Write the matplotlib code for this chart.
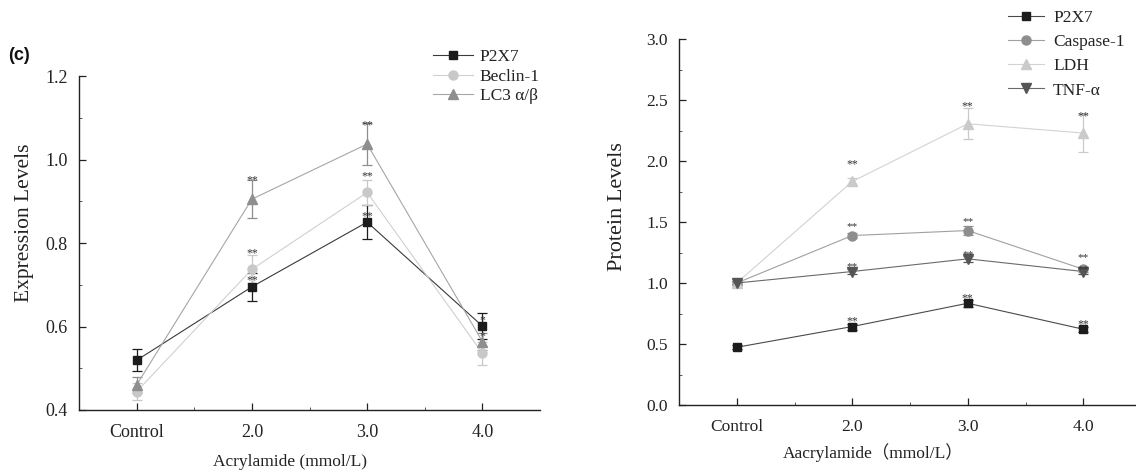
import matplotlib
matplotlib.use("Agg")
import matplotlib.pyplot as plt
import numpy as np
from matplotlib.ticker import MultipleLocator, FixedLocator
from matplotlib.lines import Line2D

plt.rcParams['font.family'] = ['Liberation Serif', 'Noto Sans CJK SC']
plt.rcParams['mathtext.fontset'] = 'stix'

# ---------------- data ----------------
categories = ["Control", "2.0", "3.0", "4.0"]

# Panel (c) – expression levels
left_series = ["P2X7", "Beclin-1", "LC3 α/β"]
left_p2x7 = [0.519, 0.695, 0.850, 0.601]
left_p2x7_err = [0.026, 0.034, 0.040, 0.032]
left_beclin = [0.444, 0.737, 0.921, 0.536]
left_beclin_err = [0.020, 0.034, 0.030, 0.028]
left_lc3 = [0.460, 0.905, 1.037, 0.564]
left_lc3_err = [0.020, 0.046, 0.051, 0.020]
left_p2x7_sig = ["", "**", "**", "*"]
left_beclin_sig = ["", "**", "**", ""]
left_lc3_sig = ["", "**", "**", "*"]

# Right panel – protein levels
right_series = ["P2X7", "Caspase-1", "LDH", "TNF-α"]
right_p2x7 = [0.473, 0.643, 0.834, 0.621]
right_p2x7_err = [0.015, 0.025, 0.030, 0.020]
right_casp = [1.000, 1.389, 1.430, 1.113]
right_casp_err = [0.015, 0.020, 0.035, 0.020]
right_ldh = [1.000, 1.832, 2.305, 2.229]
right_ldh_err = [0.015, 0.030, 0.127, 0.153]
right_tnf = [1.000, 1.094, 1.198, 1.094]
right_tnf_err = [0.015, 0.020, 0.025, 0.020]
right_p2x7_sig = ["", "**", "**", "**"]
right_casp_sig = ["", "**", "**", "**"]
right_ldh_sig = ["", "**", "**", "**"]
right_tnf_sig = ["", "**", "**", "**"]

# ---------------- figure ----------------
W, H = 1136, 471
fig = plt.figure(figsize=(W / 100, H / 100), dpi=100)

def px_rect(x0, y_top, x1, y_bot):
    return [x0 / W, 1 - y_bot / H, (x1 - x0) / W, (y_bot - y_top) / H]

axL = fig.add_axes(px_rect(79, 76, 540, 410))
axR = fig.add_axes(px_rect(679, 39, 1141, 405))

x = np.arange(len(categories))

def style_axes(ax, ylim, ymajor, yminor, tick_fs):
    ax.set_xlim(-0.5, len(categories) - 0.5)
    ax.set_ylim(*ylim)
    ax.spines['top'].set_visible(False)
    ax.spines['right'].set_visible(False)
    for s in ('left', 'bottom'):
        ax.spines[s].set_linewidth(1.0)
        ax.spines[s].set_color('#222222')
    ax.set_xticks(x)
    ax.set_xticklabels(categories)
    ax.xaxis.set_minor_locator(FixedLocator(x[:-1] + 0.5))
    ax.yaxis.set_major_locator(MultipleLocator(ymajor))
    ax.yaxis.set_minor_locator(MultipleLocator(yminor))
    ax.tick_params(which='major', direction='in', length=5, width=0.9,
                   labelsize=tick_fs, colors='#222222', pad=6)
    ax.tick_params(which='minor', direction='in', length=2.5, width=0.7,
                   colors='#555555')
    ax.tick_params(axis='y', which='major', pad=8)
    ax.tick_params(axis='x', which='major', pad=10)

def draw_series(ax, vals, errs, sigs, label, color, linecolor, marker, ms,
                star_off_px, star_fs=8.5):
    ax.errorbar(x, vals, yerr=errs, color=linecolor, ecolor=color,
                marker=marker, markersize=ms, markerfacecolor=color,
                markeredgecolor=color, linewidth=0.8, elinewidth=0.9,
                capsize=3.5, capthick=0.9, zorder=3)
    for xi, v, s, off in zip(x, vals, sigs, star_off_px):
        if s:
            ax.annotate(s, xy=(xi, v), xytext=(0, (off - 6) * 0.72),
                        textcoords='offset points', ha='center', va='baseline',
                        fontsize=star_fs, color='#333333', zorder=5)
    return Line2D([], [], color=linecolor, linewidth=0.8, marker=marker,
                  markersize=ms, markerfacecolor=color, markeredgecolor=color,
                  label=label)

# ---------------- left panel ----------------
style_axes(axL, (0.4, 1.2), 0.2, 0.1, 13)
axL.yaxis.set_major_formatter(matplotlib.ticker.FormatStrFormatter('%.1f'))
hL = [
    draw_series(axL, left_p2x7, left_p2x7_err, left_p2x7_sig, left_series[0],
                '#1c1c1c', '#3a3a3a', 's', 6.0, [9, 9, 9, 9]),
    draw_series(axL, left_beclin, left_beclin_err, left_beclin_sig,
                left_series[1], '#c8c8c8', '#d0d0d0', 'o', 6.5,
                [19, 19, 19, 19]),
    draw_series(axL, left_lc3, left_lc3_err, left_lc3_sig, left_series[2],
                '#8e8e8e', '#a6a6a6', '^', 7.0, [22, 22, 22, 8]),
]

axL.set_ylabel("Expression Levels", fontsize=15.5, color='#222222')
axL.yaxis.set_label_coords(25 / W, 1 - 223 / H, transform=fig.transFigure)
axL.set_xlabel("Acrylamide (mmol/L)", fontsize=12.5, color='#222222')
axL.xaxis.set_label_coords(290 / W, 1 - 462 / H, transform=fig.transFigure)
axL.xaxis.label.set_va('center')
axL.yaxis.label.set_va('center')

legL = axL.legend(handles=hL, loc='upper left',
                  bbox_to_anchor=(433 / W, 1 - 49 / H),
                  bbox_transform=fig.transFigure, frameon=False, fontsize=12.5,
                  handlelength=2.3, handletextpad=0.4, labelspacing=0.2,
                  borderpad=0, borderaxespad=0)
for t in legL.get_texts():
    t.set_color('#222222')

fig.text(8 / W, 1 - 56 / H, "(c)", fontsize=13, fontweight='bold',
         family='Liberation Sans', va='center', ha='left', color='#111111')

# ---------------- right panel ----------------
style_axes(axR, (0.0, 3.0), 0.5, 0.25, 12.5)
axR.yaxis.set_major_formatter(matplotlib.ticker.FormatStrFormatter('%.1f'))
hR = [
    draw_series(axR, right_p2x7, right_p2x7_err, right_p2x7_sig,
                right_series[0], '#1c1c1c', '#4a4a4a', 's', 6.0, [8] * 4),
    draw_series(axR, right_casp, right_casp_err, right_casp_sig,
                right_series[1], '#8e8e8e', '#a0a0a0', 'o', 6.5,
                [12, 12, 12, 15], star_fs=8),
    draw_series(axR, right_ldh, right_ldh_err, right_ldh_sig,
                right_series[2], '#cacaca', '#d2d2d2', '^', 7.0, [20] * 4),
    draw_series(axR, right_tnf, right_tnf_err, right_tnf_sig,
                right_series[3], '#555555', '#6a6a6a', 'v', 7.0,
                [8, 8, 8, 5], star_fs=8),
]

axR.set_ylabel("Protein Levels", fontsize=16, color='#222222')
axR.yaxis.set_label_coords(617 / W, 1 - 207 / H, transform=fig.transFigure)
axR.set_xlabel("Aacrylamide（mmol/L）", fontsize=12.5, color='#222222')
axR.xaxis.set_label_coords(873 / W, 1 - 453 / H, transform=fig.transFigure)
axR.xaxis.label.set_va('center')
axR.yaxis.label.set_va('center')

legR = axR.legend(handles=hR, loc='upper left',
                  bbox_to_anchor=(1008 / W, 1 - 10 / H),
                  bbox_transform=fig.transFigure, frameon=False, fontsize=12.5,
                  handlelength=2.1, handletextpad=0.5, labelspacing=0.46,
                  borderpad=0, borderaxespad=0)
for t in legR.get_texts():
    t.set_color('#222222')

fig.savefig("out.png", dpi=100)
